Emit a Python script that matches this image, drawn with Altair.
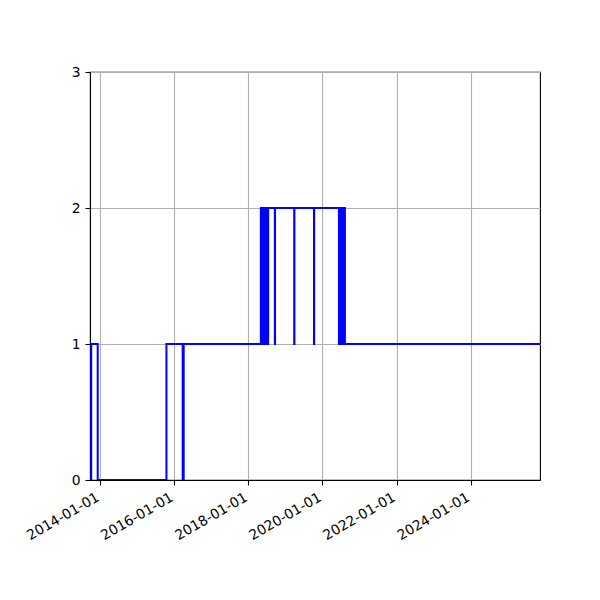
import altair as alt
import pandas as pd

# Step series (dates where the value changes, and the value from then on)
dates = [
    "2013-09-22", "2013-10-04", "2013-12-07",
    "2015-10-16",
    "2016-03-24", "2016-04-03",
    "2018-05-04",
    "2018-05-10", "2018-05-12",
    "2018-05-18", "2018-05-20",
    "2018-05-26", "2018-05-28",
    "2018-06-03", "2018-06-05",
    "2018-06-11", "2018-06-13",
    "2018-06-19", "2018-06-21",
    "2018-06-27", "2018-06-29",
    "2018-07-05", "2018-07-07",
    "2018-07-13", "2018-07-15",
    "2018-09-19", "2018-09-21",
    "2019-03-29", "2019-03-31",
    "2019-10-10", "2019-10-12",
    "2020-06-12", "2020-06-14",
    "2020-06-20", "2020-06-22",
    "2020-06-28", "2020-06-30",
    "2020-07-06", "2020-07-08",
    "2020-07-14", "2020-07-16",
    "2020-07-22", "2020-07-24",
    "2020-07-30", "2020-08-01",
    "2020-08-10",
    "2025-11-16",
]
values = [
    0, 1, 0,
    1,
    0, 1,
    2,
    1, 2,
    1, 2,
    1, 2,
    1, 2,
    1, 2,
    1, 2,
    1, 2,
    1, 2,
    1, 2,
    1, 2,
    1, 2,
    1, 2,
    1, 2,
    1, 2,
    1, 2,
    1, 2,
    1, 2,
    1, 2,
    1, 2,
    1,
    1,
]

x_ticks = ["2014-01-01", "2016-01-01", "2018-01-01", "2020-01-01", "2022-01-01", "2024-01-01"]
y_ticks = [0, 1, 2, 3]
x_domain = ["2013-09-22", "2025-11-16"]

df = pd.DataFrame({"date": pd.to_datetime(dates), "value": values})

tick_dt = [alt.DateTime(year=int(t[:4]), month=int(t[5:7]), date=int(t[8:10])) for t in x_ticks]
dom_dt = [alt.DateTime(year=int(t[:4]), month=int(t[5:7]), date=int(t[8:10])) for t in x_domain]

font = "DejaVu Sans"

chart = (
    alt.Chart(df)
    .mark_line(interpolate="step-after", color="#0000ff", strokeWidth=2, clip=True)
    .encode(
        x=alt.X(
            "date:T",
            scale=alt.Scale(domain=dom_dt, nice=False),
            axis=alt.Axis(
                values=tick_dt,
                format="%Y-%m-%d",
                labelAngle=-30,
                labelAlign="right",
                labelBaseline="top",
                labelPadding=5,
                labelOffset=-6,
                title=None,
            ),
        ),
        y=alt.Y(
            "value:Q",
            scale=alt.Scale(domain=[0, 3], nice=False),
            axis=alt.Axis(values=y_ticks, format="d", labelPadding=5, title=None),
        ),
    )
    .properties(
        width=450,
        height=408,
        autosize=alt.AutoSizeParams(type="none"),
        padding={"left": 82, "top": 64, "right": 52, "bottom": 112},
    )
    .configure_view(stroke="black", strokeWidth=1.1)
    .configure_axis(
        labelFont=font,
        labelFontSize=13.9,
        labelColor="black",
        tickColor="black",
        tickSize=5,
        tickWidth=1.1,
        domainColor="black",
        domainWidth=1.1,
        grid=True,
        gridColor="#b0b0b0",
        gridWidth=1.1,
        labelFlush=False,
        labelOverlap=False,
    )
)

chart.save("out.html", embed_options={"renderer": "svg", "actions": False})
